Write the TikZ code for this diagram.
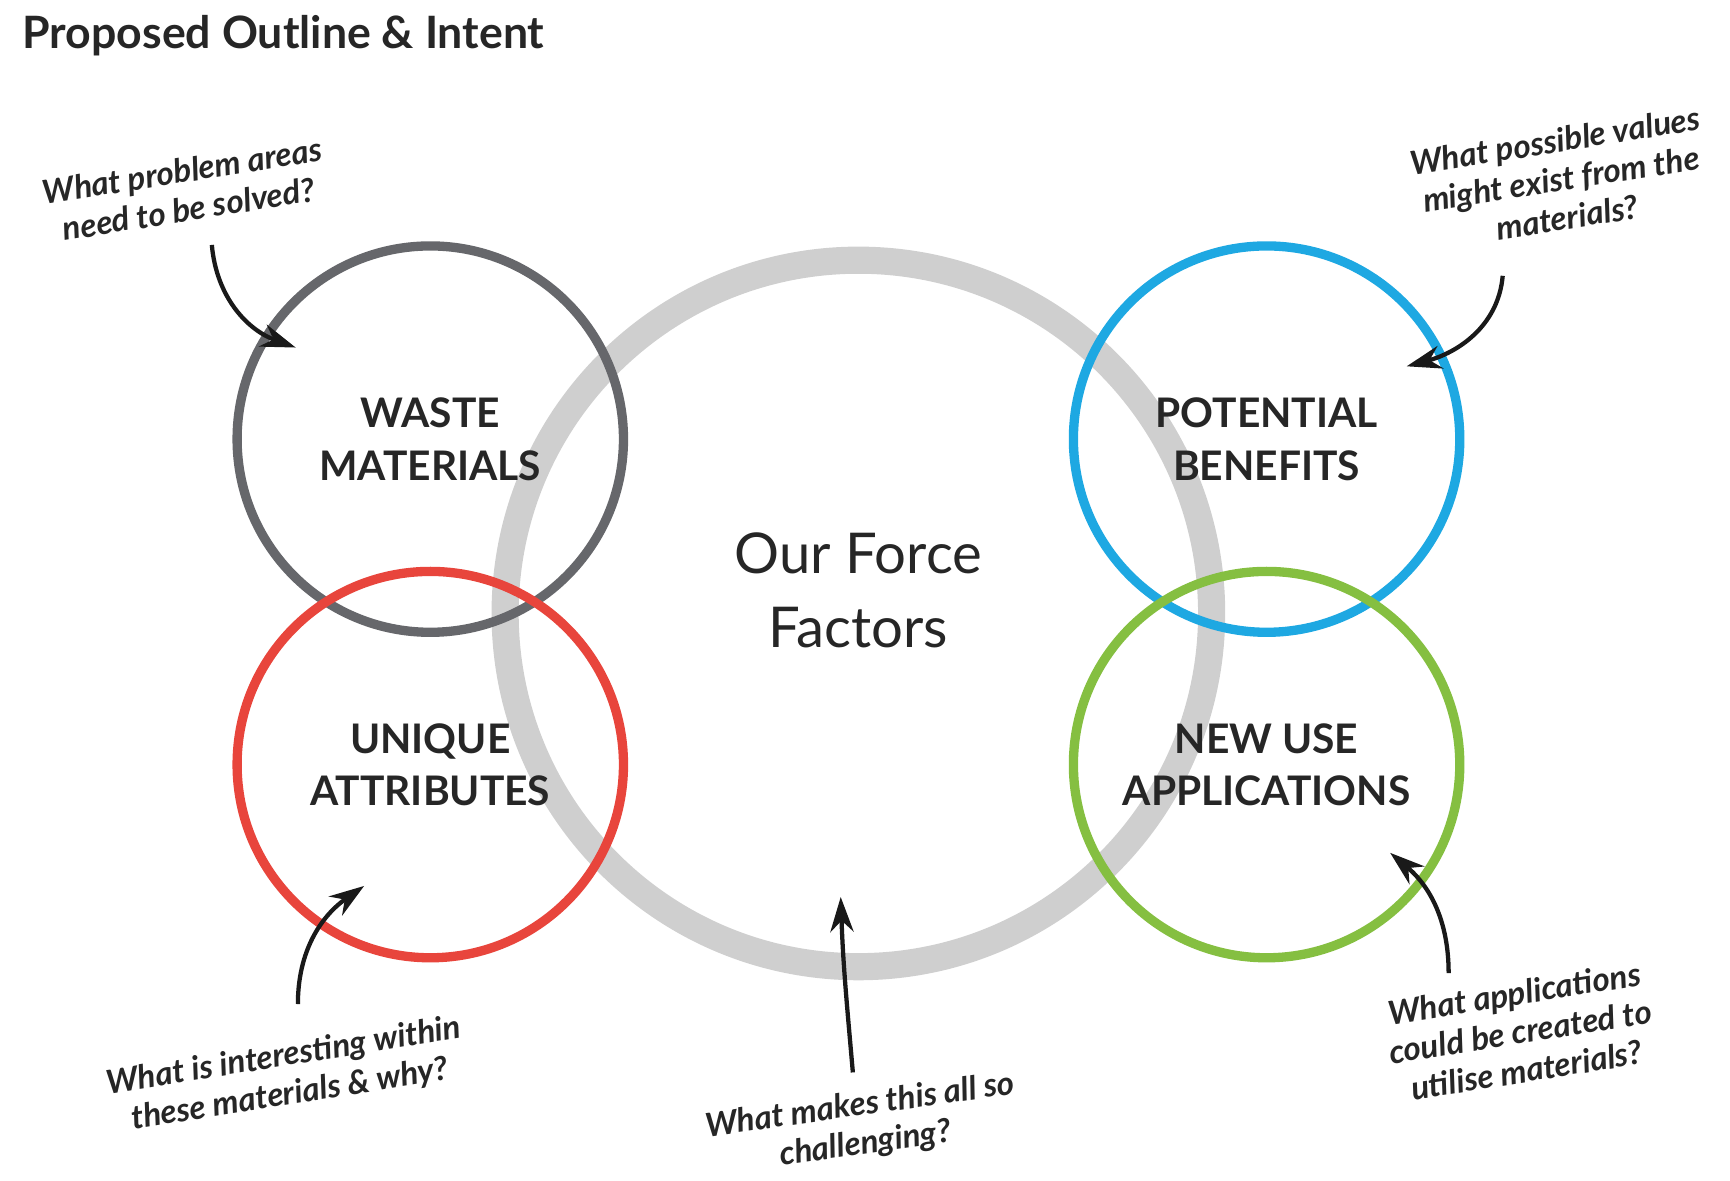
\documentclass[tikz,border=0pt]{standalone}
\usepackage{fontspec}
\setmainfont{Lato}
\usetikzlibrary{positioning,arrows.meta}
\definecolor{wastegray}{HTML}{66676B}
\definecolor{uniquered}{HTML}{E8453C}
\definecolor{benefitblue}{HTML}{1EA8E2}
\definecolor{usegreen}{HTML}{85BF41}
\definecolor{ringgray}{HTML}{CFCFCF}
\tikzset{
	>={Stealth[length=9pt,width=6pt]}
}

\begin{document}
\begin{tikzpicture}[
x = 0.01cm, y = -0.01cm,
every node/.style = {
	font = \fontsize{10}{12}\selectfont, text = black!85
},
topic/.style = {
	circle,
	draw,
	line width = 2.4pt,
	minimum size = 3.5cm,
	align = center,
	font = \fontsize{10.5}{13.5}\selectfont\bfseries
},
note/.style = {
	align = center,
	rotate = 9,
	font = \fontsize{8.5}{10}\selectfont\bfseries\itshape
},
pointer/.style = {
	->,
	line width = 1.1pt,
	black!90
}
]
\useasboundingbox (0,0) rectangle (1568,1070);

\node (title) [anchor = west, font = \fontsize{11.5}{13}\selectfont\bfseries] at (8,32) {Proposed Outline \& Intent};

\node (ring) [circle, draw = ringgray, line width = 7pt, minimum size = 6.4cm] at (778,556) {};
\node (force) [align = center, font = \fontsize{14.5}{19}\selectfont] at (778,535) {Our Force\\Factors};

\node (waste) [topic, draw = wastegray] at (390,398) {WASTE\\MATERIALS};
\node (unique) [topic, draw = uniquered] at (390,693) {UNIQUE\\ATTRIBUTES};
\node (benefit) [topic, draw = benefitblue] at (1148,398) {POTENTIAL\\BENEFITS};
\node (use) [topic, draw = usegreen] at (1148,693) {NEW USE\\APPLICATIONS};

\node (note_waste) [note] at (168,172) {What problem areas\\need to be solved?};
\node (note_benefit) [note] at (1415,162) {What possible values\\might exist from the\\materials?};
\node (note_unique) [note] at (260,975) {What is interesting within\\these materials \& why?};
\node (note_force) [note, rotate = -1] at (782,1020) {What makes this all so\\challenging?};
\node (note_use) [note] at (1378,935) {What applications\\could be created to\\utilise materials?};

\coordinate (tip_waste) at (268,315);
\coordinate (tip_benefit) at (1275,332);
\coordinate (tip_unique) at (330,803);
\coordinate (tip_use) at (1260,773);
\coordinate (tip_force) at (762,813);

\draw [pointer] (192,222) to [out = -85, in = 160] (tip_waste);
\draw [pointer] (1362,250) to [out = -95, in = 15] (tip_benefit);
\draw [pointer] (270,910) to [out = 90, in = 215] (tip_unique);
\draw [pointer] (1313,882) to [out = 90, in = -40] (tip_use);
\draw [pointer] (773,972) to [out = 95, in = -88] (tip_force);
\end{tikzpicture}
\end{document}
